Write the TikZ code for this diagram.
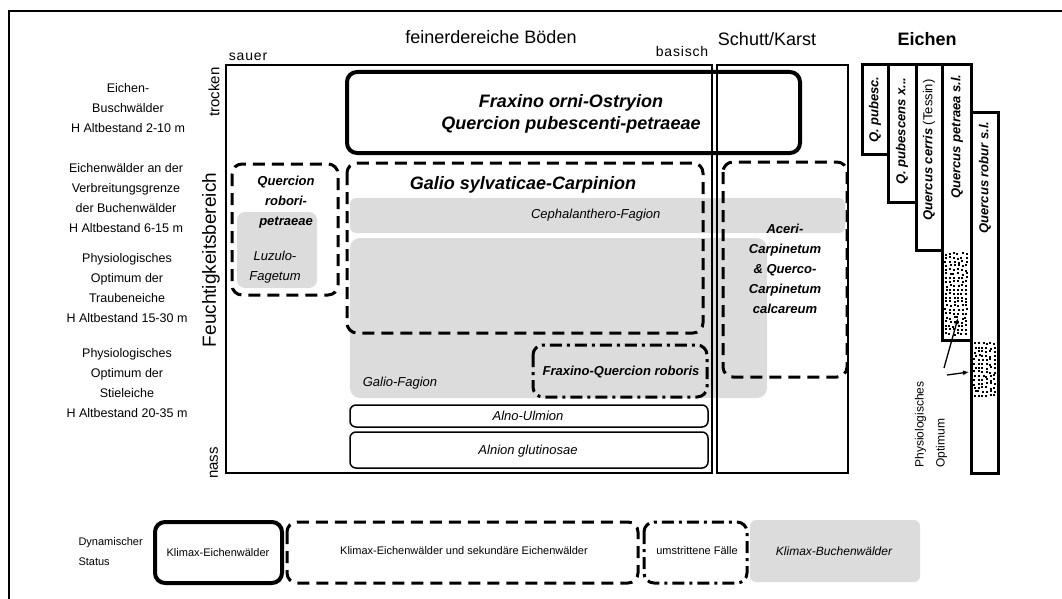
\documentclass[tikz,border=0pt]{standalone}
\usepackage{fontspec}
\setmainfont{Liberation Sans}
\usetikzlibrary{arrows.meta}
\definecolor{lgrey}{HTML}{DCDCDC}
\tikzset{
  thinbox/.style={draw=black, line width=1.3pt},
  thickbox/.style={draw=black, line width=4pt, rounded corners=10pt},
  dashbox/.style={draw=black, line width=3pt, dash pattern=on 12pt off 7pt, rounded corners=10pt},
  dashdotbox/.style={draw=black, line width=3pt, dash pattern=on 12pt off 5pt on 3pt off 5pt, rounded corners=10pt},
  smallbox/.style={draw=black, line width=1.5pt, rounded corners=6pt},
  greyarea/.style={fill=lgrey},
  bar/.style={draw=black, line width=3pt},
  leftlab/.style={align=center, font=\fontsize{12.5}{20}\selectfont},
  head/.style={anchor=base, font=\fontsize{18}{20}\selectfont},
  small/.style={anchor=base, font=\fontsize{14}{16}\selectfont\addfontfeature{LetterSpace=6}},
  bigbi/.style={font=\fontsize{18}{22}\selectfont\bfseries\itshape, align=center},
  midbi/.style={font=\fontsize{13}{20}\selectfont\bfseries\itshape, align=center},
  midi/.style={font=\fontsize{13}{20}\selectfont\itshape, align=center},
  barlab/.style={rotate=90, anchor=east, font=\fontsize{13}{15}\selectfont\bfseries\itshape},
  leg/.style={font=\fontsize{11}{19}\selectfont, align=center},
  stip/.style={fill=black},
}
\begin{document}
\begin{tikzpicture}[x=1pt, y=-1pt]
\useasboundingbox (0,0) rectangle (1062,599);
% outer frame
\draw[line width=1.2pt] (1062,11) -- (9,11) -- (9,599);

% grey areas
\fill[greyarea, rounded corners=6pt] (350,198) rectangle (845,233);
\fill[greyarea, rounded corners=10pt] (350,238) rectangle (767,398);
\fill[greyarea, rounded corners=8pt] (237,212) rectangle (317,288);

% main frames
\draw[thinbox] (226,65) rectangle (712,473);
\draw[thinbox] (717,65) rectangle (848,473);

% community boxes
\draw[thickbox] (347,72) rectangle (800,153);
\draw[dashbox] (347,163) rectangle (703,333);
\draw[dashbox] (232,164) rectangle (338,295);
\draw[dashbox] (723,162) rectangle (847,377);
\draw[dashdotbox] (533,345) rectangle (707,397);
\draw[smallbox] (350,405) rectangle (708,427);
\draw[smallbox] (350,432) rectangle (708,468);

% headers
\node[head] (hfein) at (491,44) {feinerdereiche Böden};
\node[head] (hschutt) at (767,46) {Schutt/Karst};
\node[head, font=\fontsize{18}{20}\selectfont\bfseries] (heichen) at (927,46) {Eichen};
\node[small] (sauer) at (248,61) {sauer};
\node[small] (basisch) at (682,57) {basisch};

% axis labels
\node[rotate=90, font=\fontsize{15}{17}\selectfont] (trocken) at (214,92) {trocken};
\node[rotate=90, font=\fontsize{15}{17}\selectfont] (nass) at (214,463) {nass};
\node[rotate=90, font=\fontsize{19}{21}\selectfont] (feucht) at (211,260) {Feuchtigkeitsbereich};

% left labels
\node[leftlab] (l1) at (128,108) {Eichen-\\Buschwälder\\H Altbestand 2-10 m};
\node[leftlab] (l2) at (126,198) {Eichenwälder an der\\Verbreitungsgrenze\\der Buchenwälder\\H Altbestand 6-15 m};
\node[leftlab] (l3) at (127,288) {Physiologisches\\Optimum der\\Traubeneiche\\H Altbestand 15-30 m};
\node[leftlab] (l4) at (127,383) {Physiologisches\\Optimum der\\Stieleiche\\H Altbestand 20-35 m};

% texts in boxes
\node[bigbi] (fraxino) at (571,114) {Fraxino orni-Ostryion\\Quercion pubescenti-petraeae};
\node[bigbi] (galio) at (523,185) {Galio sylvaticae-Carpinion};
\node[midi, anchor=east] (ceph) at (664,215) {Cephalanthero-Fagion};
\node[midi] (galiofag) at (400,383) {Galio-Fagion};
\node[midbi] (fqr) at (621,372) {Fraxino-Quercion roboris};
\node[midi] (alno) at (528,416) {Alno-Ulmion};
\node[midi] (alnion) at (528,451) {Alnion glutinosae};
\node[midbi] (qrp) at (286,202) {Quercion\\robori-\\petraeae};
\node[midi] (luz) at (275,267) {Luzulo-\\Fagetum};
\node[midbi] (aceri) at (785,269) {Aceri-\\Carpinetum\\\& Querco-\\Carpinetum\\calcareum};

% oak bars
\draw[bar] (862,65) rectangle (888,154);
\draw[bar] (888,65) rectangle (916,202);
\draw[bar] (916,65) rectangle (942,250);
\draw[bar] (942,65) rectangle (971,340);
\draw[bar] (971,113) rectangle (998,473);
% stipple (jittered grid)
\pgfmathsetseed{11}
\foreach \c in {0,...,5}{
  \foreach \r in {0,...,20}{
    \pgfmathsetmacro\xx{944.3+\c*4+rnd*1.8}
    \pgfmathsetmacro\yy{252+\r*4+rnd*1.8}
    \fill[stip] (\xx,\yy) rectangle ++(2,2);
  }
}
\foreach \c in {0,...,5}{
  \foreach \r in {0,...,13}{
    \pgfmathsetmacro\xx{973.2+\c*3.9+rnd*1.6}
    \pgfmathsetmacro\yy{342+\r*4+rnd*1.8}
    \fill[stip] (\xx,\yy) rectangle ++(2,2);
  }
}
\draw[bar] (942,250) -- (942,340) -- (971,340);

\node[barlab] (qpub) at (875,73) {Q. pubesc.};
\node[barlab] (qpubx) at (902,74) {Q. pubescens x...};
\node[barlab] (qcer) at (929,76) {Quercus cerris \textnormal{(Tessin)}};
\node[barlab] (qpet) at (957,71) {Quercus petraea s.l.};
\node[barlab] (qrob) at (985,118) {Quercus robur s.l.};

% physiological optimum
\node[rotate=90, anchor=west, align=left, font=\fontsize{12}{21}\selectfont] (phys) at (931,471) {Physiologisches\\Optimum};
\coordinate (a1s) at (944,368);
\coordinate (a1e) at (958,318);
\coordinate (a2s) at (947,375);
\coordinate (a2e) at (969,372);
\draw[line width=1.3pt, -{Latex[length=6pt,width=5pt]}] (a1s) -- (a1e);
\draw[line width=1.3pt, -{Latex[length=6pt,width=5pt]}] (a2s) -- (a2e);

% legend row
\node[anchor=west, align=left, font=\fontsize{11}{20}\selectfont] (dyn) at (75,552) {Dynamischer\\Status};
\draw[thickbox] (155,522) rectangle (282,583);
\node[leg] (k1) at (218,553) {Klimax-Eichenwälder};
\draw[dashbox] (287,522) rectangle (638,583);
\node[leg] (k2) at (464,551) {Klimax-Eichenwälder und sekundäre Eichenwälder};
\draw[dashdotbox] (644,522) rectangle (747,583);
\node[leg] (k3) at (697,551) {umstrittene Fälle};
\fill[greyarea, rounded corners=6pt] (750,520) rectangle (920,582);
\node[leg, font=\fontsize{12}{19}\selectfont\itshape] (k4) at (834,551) {Klimax-Buchenwälder};
\end{tikzpicture}
\end{document}
